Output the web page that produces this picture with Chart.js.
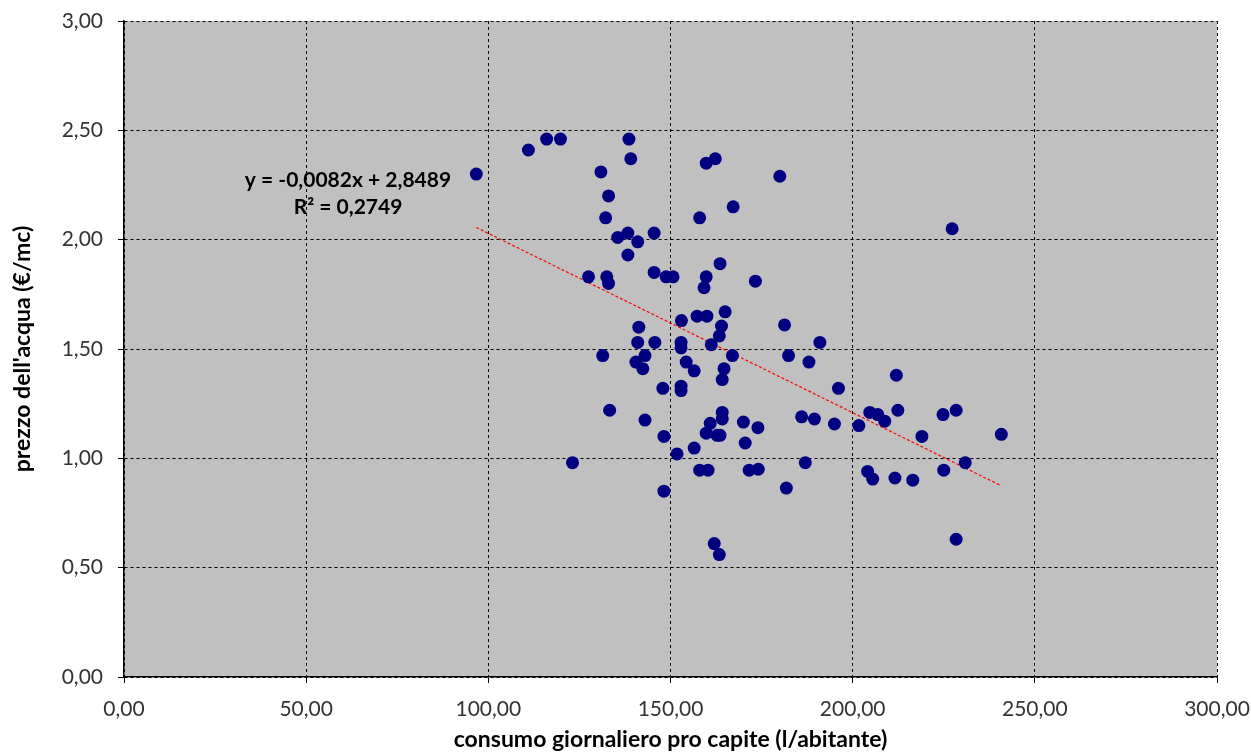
<!DOCTYPE html>
<html>
<head>
<meta charset="utf-8">
<script src="https://cdn.jsdelivr.net/npm/chart.js@4/dist/chart.umd.min.js"></script>
<style>
  html, body { margin: 0; padding: 0; background: #fff; }
  #wrap { width: 1251px; height: 753px; }
</style>
</head>
<body>
<div id="wrap"><canvas id="chart" width="1251" height="753"></canvas></div>
<script>
// consumo giornaliero pro capite (l/abitante)
var consumo = [
  96.7, 111, 116, 119.8, 138.6, 139.1, 130.9, 133, 132.2, 135.5,
  138.3, 141, 145.5, 138.3, 127.5, 132.5, 133, 145.5, 148.8, 150.7,
  153, 157.3, 160, 159.8, 159.2, 165, 163.6, 158, 159.8, 162.3,
  167.2, 173.3, 180, 164, 163.4, 161.2, 167, 181.3, 191, 182.4,
  188, 141.3, 141, 145.7, 152.9, 152.9, 131.4, 143, 140.5, 142.4,
  154.3, 156.5, 164.7, 164.2, 147.9, 152.9, 152.9, 133.3, 143, 164.2,
  164.2, 160.9, 159.8, 162.8, 163.6, 170, 174, 170.5, 186, 189.5,
  148.2, 156.5, 151.8, 123.1, 158, 160.3, 171.6, 174.1, 187, 148.2,
  181.8, 162, 163.4, 212, 196.1, 195, 201.7, 204.7, 206.9, 208.8,
  212.4, 219, 224.8, 228.4, 240.8, 204.1, 205.5, 211.6, 216.5, 225,
  230.9, 228.4, 227.3
];
// prezzo dell'acqua (€/mc)
var prezzo = [
  2.30, 2.41, 2.46, 2.46, 2.46, 2.37, 2.31, 2.20, 2.10, 2.01,
  2.03, 1.99, 2.03, 1.93, 1.83, 1.83, 1.80, 1.85, 1.83, 1.83,
  1.63, 1.65, 1.65, 1.83, 1.78, 1.67, 1.89, 2.10, 2.35, 2.37,
  2.15, 1.81, 2.29, 1.605, 1.56, 1.52, 1.47, 1.61, 1.53, 1.47,
  1.44, 1.60, 1.53, 1.53, 1.53, 1.505, 1.47, 1.47, 1.44, 1.41,
  1.44, 1.40, 1.41, 1.36, 1.32, 1.33, 1.31, 1.22, 1.175, 1.21,
  1.18, 1.16, 1.115, 1.105, 1.105, 1.166, 1.14, 1.07, 1.19, 1.18,
  1.10, 1.047, 1.02, 0.98, 0.946, 0.946, 0.946, 0.95, 0.98, 0.85,
  0.864, 0.61, 0.56, 1.38, 1.32, 1.157, 1.15, 1.21, 1.20, 1.17,
  1.22, 1.10, 1.20, 1.22, 1.11, 0.94, 0.905, 0.91, 0.90, 0.946,
  0.98, 0.63, 2.05
];
// linea di tendenza (da Excel)
var pendenza = -0.0082;
var intercetta = 2.8489;
var etichettaEq = "y = -0,0082x + 2,8489";
var etichettaR2 = "R² = 0,2749";

var punti = consumo.map(function (x, i) { return { x: x, y: prezzo[i] }; });
var xMin = Math.min.apply(null, consumo);
var xMax = Math.max.apply(null, consumo);
var tendenza = [
  { x: xMin, y: pendenza * xMin + intercetta },
  { x: xMax, y: pendenza * xMax + intercetta }
];

function virgola(v) {
  return Number(v).toFixed(2).replace(".", ",");
}

var sfondoPlot = {
  id: "sfondoPlot",
  beforeDraw: function (chart) {
    var a = chart.chartArea;
    var c = chart.ctx;
    c.save();
    c.fillStyle = "#c0c0c0";
    c.fillRect(a.left, a.top, a.right - a.left, a.bottom - a.top);
    c.restore();
  },
  afterDatasetsDraw: function (chart) {
    var c = chart.ctx;
    var a = chart.chartArea;
    c.save();
    c.fillStyle = "#000";
    c.font = "bold 21px Lato";
    c.textAlign = "center";
    c.textBaseline = "middle";
    c.fillText(etichettaEq, a.left + 224, a.top + 159);
    c.fillText(etichettaR2, a.left + 224, a.top + 186);
    c.restore();
  }
};

var ctx = document.getElementById("chart").getContext("2d");
new Chart(ctx, {
  type: "scatter",
  data: {
    datasets: [
      {
        label: "trend",
        type: "line",
        data: tendenza,
        borderColor: "#ff0000",
        borderWidth: 1.2,
        borderDash: [3, 2],
        pointRadius: 0,
        fill: false,
        order: 2,
      },
      {
        label: "prezzo",
        data: punti,
        backgroundColor: "#000080",
        borderWidth: 0,
        pointRadius: 6.5,
        pointHoverRadius: 6.5,
        order: 1,
      },
    ],
  },
  options: {
    responsive: false,
    animation: false,
    layout: { padding: { top: 21, right: 34, left: 0, bottom: 0 } },
    plugins: {
      legend: { display: false },
      tooltip: { enabled: false },
    },
    scales: {
      x: {
        type: "linear",
        min: 0,
        max: 300,
        afterFit: function (s) {
          s.height = 76;
          s.paddingLeft = 0;
          s.paddingRight = 0;
        },
        ticks: {
          stepSize: 50,
          color: "#333",
          padding: 14,
          font: { family: "Lato", size: 21 },
          callback: function (v) { return virgola(v); },
        },
        grid: {
          color: "#000",
          lineWidth: 1,
          tickLength: 6,
          tickBorderDash: [],
          tickColor: "#000",
        },
        border: { display: true, color: "#000", width: 1.5, dash: [3, 3] },
        title: {
          display: true,
          text: "consumo giornaliero pro capite (l/abitante)",
          color: "#000",
          font: { family: "Lato", size: 23, weight: "bold" },
          padding: { top: -3, bottom: 0 },
        },
      },
      y: {
        min: 0,
        max: 3,
        afterFit: function (s) {
          s.width = 124;
          s.paddingTop = 0;
          s.paddingBottom = 0;
        },
        ticks: {
          stepSize: 0.5,
          color: "#333",
          padding: 15,
          font: { family: "Lato", size: 21 },
          callback: function (v) { return virgola(v); },
        },
        grid: {
          color: "#000",
          lineWidth: 1,
          tickLength: 6,
          tickBorderDash: [],
          tickColor: "#000",
        },
        border: { display: true, color: "#000", width: 1.5, dash: [3, 3] },
        title: {
          display: true,
          text: "prezzo dell'acqua (€/mc)",
          color: "#000",
          font: { family: "Lato", size: 23, weight: "bold" },
          padding: { top: 9, bottom: 0 },
        },
      },
    },
  },
  plugins: [sfondoPlot],
});
</script>
</body>
</html>
